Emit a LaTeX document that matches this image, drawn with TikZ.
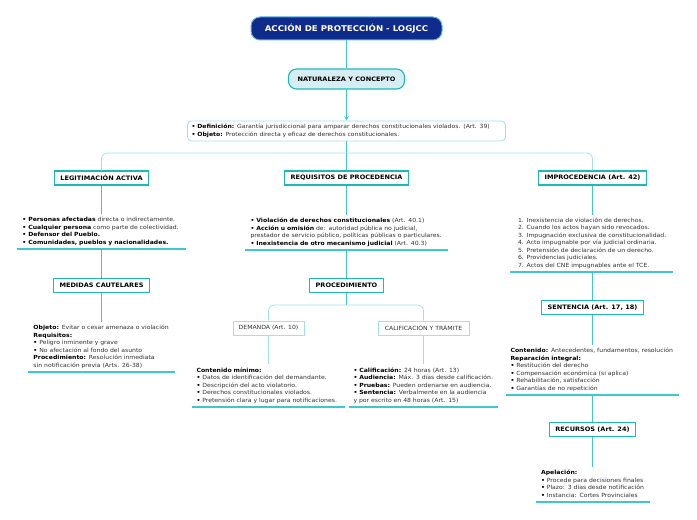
\documentclass[tikz,border=0pt]{standalone}
\usepackage{fontspec}
\setmainfont{DejaVu Sans}[FakeStretch=1.08]
\usetikzlibrary{arrows,shapes,positioning}

\definecolor{navyfill}{HTML}{0F2C8C}
\definecolor{titleline}{HTML}{5AB4E6}
\definecolor{trunkcol}{HTML}{3DC9CC}
\definecolor{boxcol}{HTML}{1DB8B8}
\definecolor{branchcol}{HTML}{9FE3E6}
\definecolor{natfill}{HTML}{D5EDF3}
\definecolor{defline}{HTML}{A8DCF2}
\definecolor{textgray}{HTML}{333333}

\newcommand{\kw}[1]{\textbf{\color{black}#1}}
\newcommand{\lines}[1]{\noindent\begin{tabular}{@{}l@{}}#1\end{tabular}}

\begin{document}
\begin{tikzpicture}[
        x=1bp, y=-1bp,
        every node/.style={font=\fontsize{5.7}{7.45}\selectfont, inner sep=0pt},
        every path/.style={line width=1bp},
        title/.style={draw=titleline, fill=navyfill, text=white, rounded corners=9bp, minimum width=191bp, minimum height=23bp, font=\fontsize{8}{9}\selectfont\bfseries},
        topic/.style={draw=boxcol, line width=1.1bp, fill=white, minimum height=14bp, inner xsep=6bp, font=\fontsize{6.1}{7}\selectfont\bfseries},
        subtopic/.style={draw=branchcol, line width=0.7bp, fill=white, minimum height=14bp, inner xsep=5bp, text=textgray},
        note/.style={text=textgray, anchor=south, inner xsep=5bp, inner ysep=2.2bp},
        trunk/.style={draw=trunkcol},
        branch/.style={draw=branchcol, line width=0.8bp, rounded corners=6bp},
        uline/.style={draw=trunkcol, line width=1.2bp}
    ]
  \useasboundingbox (0,0) rectangle (697,520);

  % Nodes
  \node[title] (root) at (346.5,28.5) {ACCIÓN DE PROTECCIÓN - LOGJCC};
  \node[topic, fill=natfill, rounded corners=8bp, minimum width=116bp, minimum height=20bp] (nat) at (346.5,79) {NATURALEZA Y CONCEPTO};
  \node[draw=defline, line width=0.8bp, fill=white, rounded corners=4bp, text width=310bp, inner xsep=4bp, minimum height=20bp, text=textgray] (def) at (346.5,131)
    {\lines{\kw{•} \kw{Definición:} Garantía jurisdiccional para amparar derechos constitucionales violados. (Art. 39)\\
     \kw{•} \kw{Objeto:} Protección directa y eficaz de derechos constitucionales.}};

  \node[topic, minimum width=93bp] (leg) at (101.5,178) {LEGITIMACIÓN ACTIVA};
  \node[topic, minimum width=119bp] (req) at (346.5,178) {REQUISITOS DE PROCEDENCIA};
  \node[topic, minimum width=103bp] (imp) at (592.5,178) {IMPROCEDENCIA (Art. 42)};

  \node[note, text width=158bp] (legtxt) at (101.5,249)
    {\lines{\kw{•} \kw{Personas afectadas} directa o indirectamente.\\
     \kw{•} \kw{Cualquier persona} como parte de colectividad.\\
     \kw{•} \kw{Defensor del Pueblo.}\\
     \kw{•} \kw{Comunidades, pueblos y nacionalidades.}}};
  \node[note, text width=192bp] (reqtxt) at (346.5,250)
    {\lines{\kw{•} \kw{Violación de derechos constitucionales} (Art. 40.1)\\
     \kw{•} \kw{Acción u omisión} de: autoridad pública no judicial,\\
     prestador de servicio público, políticas públicas o particulares.\\
     \kw{•} \kw{Inexistencia de otro mecanismo judicial} (Art. 40.3)}};
  \node[note, text width=146bp, inner xsep=8bp] (imptxt) at (591,272)
    {\lines{1. Inexistencia de violación de derechos.\\
     2. Cuando los actos hayan sido revocados.\\
     3. Impugnación exclusiva de constitucionalidad.\\
     4. Acto impugnable por vía judicial ordinaria.\\
     5. Pretensión de declaración de un derecho.\\
     6. Providencias judiciales.\\
     7. Actos del CNE impugnables ante el TCE.}};

  \node[topic, minimum width=91bp] (med) at (101.5,285.5) {MEDIDAS CAUTELARES};
  \node[topic, minimum width=70bp] (proc) at (346.5,285.5) {PROCEDIMIENTO};
  \node[topic, minimum width=96bp] (sen) at (592.5,307.5) {SENTENCIA (Art. 17, 18)};

  \node[note, text width=136bp] (medtxt) at (101.5,372)
    {\lines{\kw{Objeto:} Evitar o cesar amenaza o violación\\
     \kw{Requisitos:}\\
     \kw{•} Peligro inminente y grave\\
     \kw{•} No afectación al fondo del asunto\\
     \kw{Procedimiento:} Resolución inmediata\\
     sin notificación previa (Arts. 26-38)}};

  \node[subtopic, minimum width=71bp] (dem) at (268.5,328) {DEMANDA (Art. 10)};
  \node[subtopic, minimum width=91bp] (cal) at (423.5,328) {CALIFICACIÓN Y TRÁMITE};

  \node[note, text width=144bp, inner xsep=4bp] (demtxt) at (268.5,407)
    {\lines{\kw{Contenido mínimo:}\\
     \kw{•} Datos de identificación del demandante.\\
     \kw{•} Descripción del acto violatorio.\\
     \kw{•} Derechos constitucionales violados.\\
     \kw{•} Pretensión clara y lugar para notificaciones.}};
  \node[note, text width=140bp, inner xsep=4bp] (caltxt) at (423.5,407)
    {\lines{\kw{•} \kw{Calificación:} 24 horas (Art. 13)\\
     \kw{•} \kw{Audiencia:} Máx. 3 días desde calificación.\\
     \kw{•} \kw{Pruebas:} Pueden ordenarse en audiencia.\\
     \kw{•} \kw{Sentencia:} Verbalmente en la audiencia\\
     y por escrito en 48 horas (Art. 15)}};

  \node[note, text width=164bp, inner xsep=4bp] (sentxt) at (592.5,395)
    {\lines{\kw{Contenido:} Antecedentes, fundamentos, resolución\\
     \kw{Reparación integral:}\\
     \kw{•} Restitución del derecho\\
     \kw{•} Compensación económica (si aplica)\\
     \kw{•} Rehabilitación, satisfacción\\
     \kw{•} Garantías de no repetición}};

  \node[topic, minimum width=82bp] (rec) at (592.5,429.5) {RECURSOS (Art. 24)};
  \node[note, text width=103bp] (rectxt) at (592.5,502)
    {\lines{\kw{Apelación:}\\
     \kw{•} Procede para decisiones finales\\
     \kw{•} Plazo: 3 días desde notificación\\
     \kw{•} Instancia: Cortes Provinciales}};

  \coordinate (fork1) at (346.5,153);
  \coordinate (fork2) at (346.5,305);

  % Connectors
  \draw[trunk] (root) -- (nat);
  \draw[trunk,->,>=stealth] (nat) -- (def);
  \draw[trunk] (def) -- (req);
  \draw[branch] (fork1) -| (leg);
  \draw[branch] (fork1) -| (imp);

  \draw[trunk] (leg) -- (legtxt);
  \draw[trunk] (legtxt) -- (med);
  \draw[trunk] (med) -- (medtxt);
  \draw[trunk] (req) -- (reqtxt);
  \draw[trunk] (reqtxt) -- (proc);
  \draw[trunk] (proc) -- (fork2);
  \draw[branch] (fork2) -| (dem);
  \draw[branch] (fork2) -| (cal);
  \draw[branch] (dem) -- (demtxt);
  \draw[branch] (cal) -- (caltxt);
  \draw[trunk] (imp) -- (imptxt.north -| imp);
  \draw[trunk] (imptxt.south -| sen) -- (sen);
  \draw[trunk] (sen) -- (sentxt);
  \draw[trunk] (sentxt) -- (rec);
  \draw[trunk] (rec) -- (rectxt);

  % underlines
  \foreach \n in {legtxt,reqtxt,imptxt,medtxt,demtxt,caltxt,sentxt,rectxt}
    \draw[uline] (\n.south west) -- (\n.south east);
\end{tikzpicture}
\end{document}
